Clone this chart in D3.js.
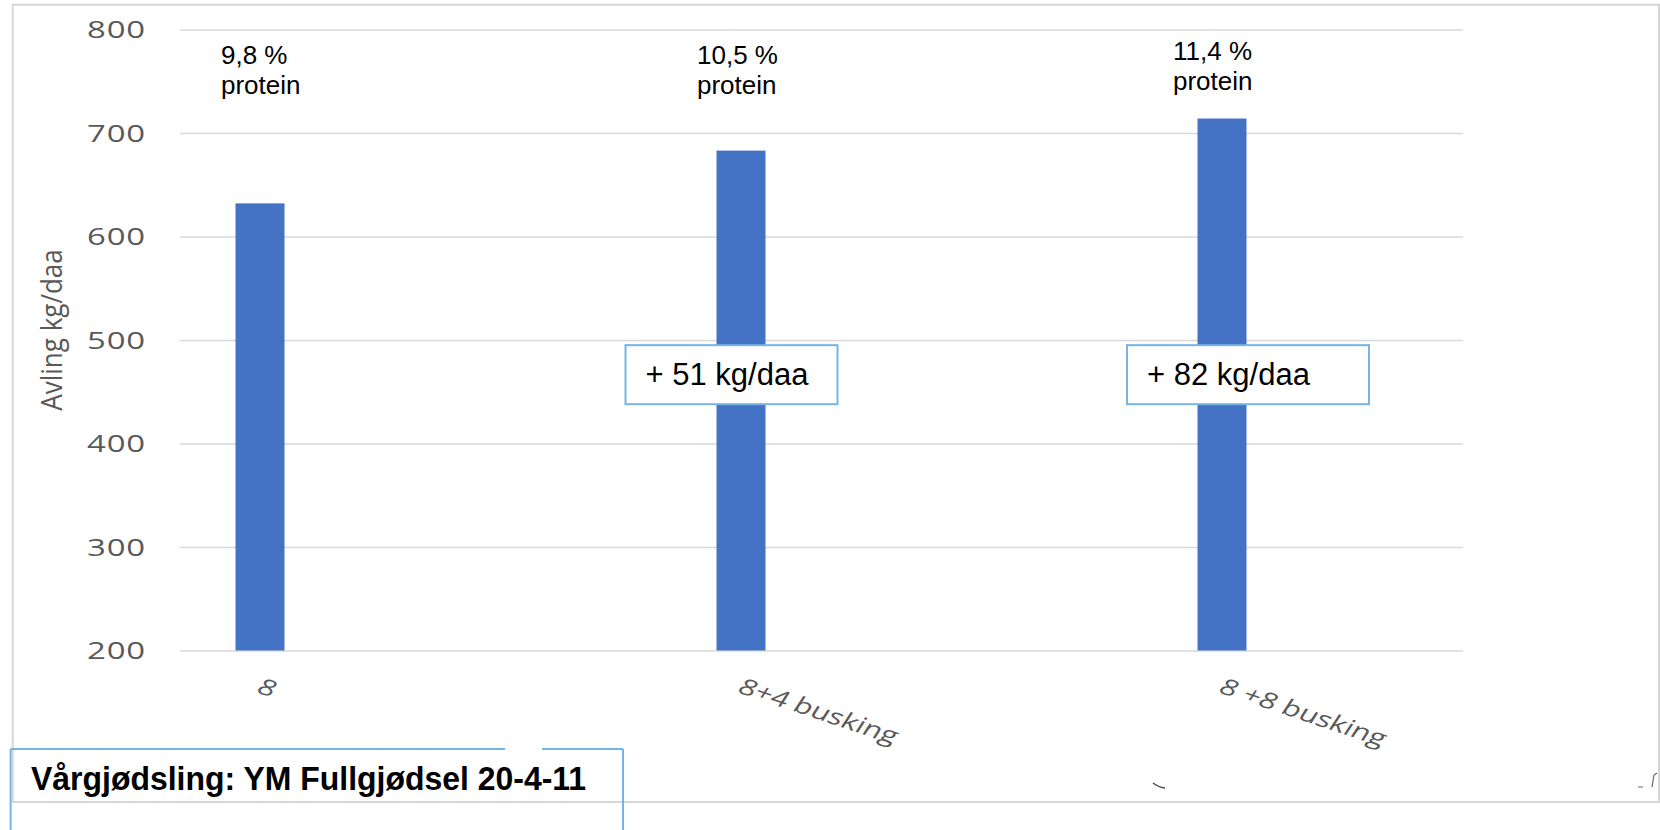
<!DOCTYPE html>
<html>
<head>
<meta charset="utf-8">
<script src="https://cdn.jsdelivr.net/npm/d3@7"></script>
<style>
    body { margin: 0; background: #fff; }
    .axis text, .cat, .ytitle { font-family: 'Open Sans', sans-serif; fill: #595959; }
    .note { font-family: 'Liberation Sans', Arial, sans-serif; fill: #000; }
</style>
</head>
<body>
<svg id="chart" width="1660" height="830"></svg>
<script>

const categories = ['8', '8+4 busking', '8 +8 busking'];
const yields = [632, 683, 714];
const proteinLabels = ['9,8 %', '10,5 %', '11,4 %'];
const gainLabels = [null, '+ 51 kg/daa', '+ 82 kg/daa'];
const yTicks = [200, 300, 400, 500, 600, 700, 800];
const footNote = 'Vårgjødsling: YM Fullgjødsel 20-4-11';

const BAR_COLOR = '#4472C4';
const BOX_BLUE = '#74B5E6';
const GRID_LEFT = 180, GRID_RIGHT = 1463;
const BAR_WIDTH = 49;

const svg = d3.select('#chart');

const x = d3.scaleBand().domain(categories).range([19.5, 1462.5]);
const y = d3.scaleLinear().domain([200, 800]).range([650.5, 29.5]);
const cx = c => x(c) + x.bandwidth() / 2;

// chart frame
svg.append('rect')
    .attr('x', 12.7).attr('y', 4.7)
    .attr('width', 1659 - 12.7).attr('height', 802 - 4.7)
    .attr('fill', '#fff')
    .attr('stroke', '#d6d6d6')
    .attr('stroke-width', 2);

// gridlines + tick labels
const yAxis = svg.append('g')
    .attr('class', 'axis')
    .attr('transform', 'translate(' + GRID_LEFT + ',0)')
    .call(d3.axisLeft(y).tickValues(yTicks).tickSize(-(GRID_RIGHT - GRID_LEFT)).tickFormat(d3.format('d')));

yAxis.select('.domain').remove();
yAxis.selectAll('.tick line')
    .attr('stroke', '#d9d9d9')
    .attr('stroke-width', 1.5);
yAxis.selectAll('.tick text')
    .attr('x', 0)
    .attr('dy', '0.36em')
    .attr('transform', 'translate(-34,0) scale(1.4,1)')
    .style('font-size', '23.5px')
    .style('letter-spacing', '0.6px')
    .attr('text-anchor', 'end');

// bars
svg.append('g').selectAll('rect')
    .data(categories)
    .enter().append('rect')
        .attr('x', c => cx(c) - BAR_WIDTH / 2)
        .attr('y', (c, i) => y(yields[i]))
        .attr('width', BAR_WIDTH)
        .attr('height', (c, i) => y(200) - y(yields[i]))
        .attr('fill', BAR_COLOR);

// protein notes above the bars
var labelShift = [-39, -44, -49];
var labelTop = [64, 64, 60];
categories.forEach((c, i) => {
    var t = svg.append('text')
        .attr('class', 'note')
        .attr('x', cx(c) + labelShift[i])
        .attr('y', labelTop[i])
        .style('font-size', '26px');
    t.append('tspan').text(proteinLabels[i]);
    t.append('tspan').attr('x', cx(c) + labelShift[i]).attr('dy', 30).text('protein');
});

// gain boxes
var boxLeft = [0, -115.5, -95];
var boxWidth = [0, 212, 242];
categories.forEach((c, i) => {
    if (!gainLabels[i]) return;
    var top = y(495);
    var left = cx(c) + boxLeft[i];
    svg.append('rect')
        .attr('x', left).attr('y', top)
        .attr('width', boxWidth[i]).attr('height', 59)
        .attr('fill', '#fff')
        .attr('stroke', BOX_BLUE)
        .attr('stroke-width', 2);
    svg.append('text')
        .attr('class', 'note')
        .attr('x', left + 20)
        .attr('y', top + 40)
        .style('font-size', '31px')
        .text(gainLabels[i]);
});

// category labels, rotated then stretched like the source
svg.append('g').selectAll('text')
    .data(categories)
    .enter().append('text')
        .attr('class', 'cat')
        .attr('transform', c => 'translate(' + (cx(c) - 5) + ',692) scale(1.4,1) rotate(25)')
        .style('font-size', '22px')
        .text(c => c);

// y axis title
svg.append('text')
    .attr('class', 'ytitle')
    .attr('transform', 'translate(62,330) scale(1.1,1) rotate(-90)')
    .attr('text-anchor', 'middle')
    .style('font-size', '26px')
    .text('Avling kg/daa');

// footnote box (runs off the bottom edge)
var fb = svg.append('g')
    .attr('fill', 'none')
    .attr('stroke', BOX_BLUE)
    .attr('stroke-width', 2);
fb.append('line').attr('x1', 10.6).attr('y1', 749).attr('x2', 505).attr('y2', 749);
fb.append('line').attr('x1', 542).attr('y1', 749).attr('x2', 623).attr('y2', 749);
fb.append('line').attr('x1', 10.6).attr('y1', 749).attr('x2', 10.6).attr('y2', 832);
fb.append('line').attr('x1', 623).attr('y1', 749).attr('x2', 623).attr('y2', 832);

svg.append('text')
    .attr('class', 'note')
    .attr('transform', 'translate(31,790) scale(0.94,1)')
    .style('font-size', '34px')
    .style('font-weight', 'bold')
    .text(footNote);

// leftover scraps of a clipped shape in the source
svg.append('path')
    .attr('d', 'M1153,783 Q1158,787 1165,788')
    .attr('fill', 'none').attr('stroke', '#444').attr('stroke-width', 1.5);
svg.append('path')
    .attr('d', 'M1652,787 L1654,775 L1657,773 M1638,787 L1643,787')
    .attr('fill', 'none').attr('stroke', '#666').attr('stroke-width', 1.2);

</script>
</body>
</html>
